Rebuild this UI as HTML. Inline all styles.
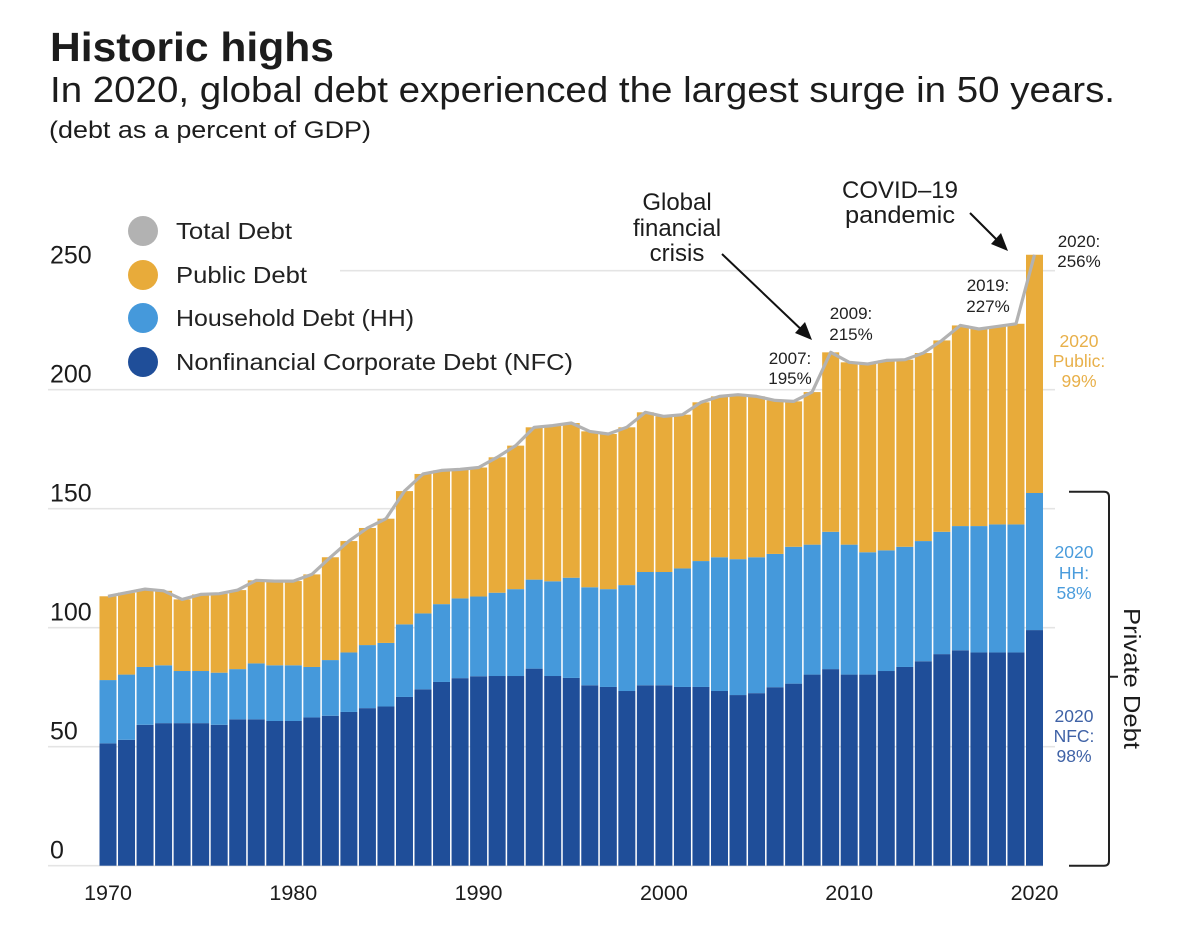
<!DOCTYPE html>
<html lang="en">
<head>
<meta charset="utf-8">
<title>Historic highs</title>
<style>
  html, body { margin: 0; padding: 0; background: #fff; }
  svg { display: block; font-family: "Liberation Sans", "DejaVu Sans", sans-serif; }
  .txt { fill: #1c1c1c; }
  .ann { font-size: 17px; fill: #222; text-anchor: middle; }
  .call { font-size: 24px; fill: #1c1c1c; text-anchor: middle; }
  .leg { font-size: 23px; fill: #222; }
  .pub { font-size: 17.5px; fill: #e8b04a; text-anchor: middle; }
  .hhl { font-size: 17.5px; fill: #4a9cdc; text-anchor: middle; }
  .nfc { font-size: 17.5px; fill: #3f62a6; text-anchor: middle; }
</style>
</head>
<body>
<svg id="chart" width="1200" height="948" viewBox="0 0 1200 948" xmlns="http://www.w3.org/2000/svg">
  <rect width="1200" height="948" fill="#fff"/>

  <text class="txt" x="50" y="61" font-size="41" font-weight="700" textLength="284" lengthAdjust="spacingAndGlyphs">Historic highs</text>
  <text class="txt" x="50" y="102" font-size="36" textLength="1065" lengthAdjust="spacingAndGlyphs">In 2020, global debt experienced the largest surge in 50 years.</text>
  <text class="txt" x="49" y="138" font-size="24" textLength="322" lengthAdjust="spacingAndGlyphs">(debt as a percent of GDP)</text>

  <g id="grid"></g>
  <g id="yAxis"></g>
  <g id="bars"></g>
  <g id="line"></g>
  <g id="xAxis"></g>

  <g>
    <g>
      <circle cx="143" cy="231" r="15" fill="#b2b2b2"/>
      <text class="leg" x="176" y="239" textLength="116" lengthAdjust="spacingAndGlyphs">Total Debt</text>
    </g>
    <g>
      <circle cx="143" cy="275" r="15" fill="#e8ab3a"/>
      <text class="leg" x="176" y="283" textLength="131" lengthAdjust="spacingAndGlyphs">Public Debt</text>
    </g>
    <g>
      <circle cx="143" cy="318" r="15" fill="#4599db"/>
      <text class="leg" x="176" y="326" textLength="238" lengthAdjust="spacingAndGlyphs">Household Debt (HH)</text>
    </g>
    <g>
      <circle cx="143" cy="362" r="15" fill="#1f4e99"/>
      <text class="leg" x="176" y="370" textLength="397" lengthAdjust="spacingAndGlyphs">Nonfinancial Corporate Debt (NFC)</text>
    </g>
  </g>

  <g>
    <text class="call" x="677" y="210">Global</text>
    <text class="call" x="677" y="236">financial</text>
    <text class="call" x="677" y="261">crisis</text>
    <line x1="722" y1="254" x2="806" y2="334" stroke="#111" stroke-width="2"/>
    <polygon points="812,340 795,333 805,322" fill="#111"/>
  </g>
  <g>
    <text class="call" x="900" y="198" textLength="116" lengthAdjust="spacingAndGlyphs">COVID–19</text>
    <text class="call" x="900" y="223" textLength="110" lengthAdjust="spacingAndGlyphs">pandemic</text>
    <line x1="970" y1="213" x2="1002" y2="245" stroke="#111" stroke-width="2"/>
    <polygon points="1008,251 991,244 1001,233" fill="#111"/>
  </g>

  <g>
    <text class="ann" x="790" y="364">2007:</text>
    <text class="ann" x="790" y="384">195%</text>
    <text class="ann" x="851" y="319">2009:</text>
    <text class="ann" x="851" y="340">215%</text>
    <text class="ann" x="988" y="291">2019:</text>
    <text class="ann" x="988" y="312">227%</text>
    <text class="ann" x="1079" y="247">2020:</text>
    <text class="ann" x="1079" y="267">256%</text>

    <text class="pub" x="1079" y="347">2020</text>
    <text class="pub" x="1079" y="367">Public:</text>
    <text class="pub" x="1079" y="387">99%</text>

    <text class="hhl" x="1074" y="558">2020</text>
    <text class="hhl" x="1074" y="579">HH:</text>
    <text class="hhl" x="1074" y="599">58%</text>

    <text class="nfc" x="1074" y="722">2020</text>
    <text class="nfc" x="1074" y="742">NFC:</text>
    <text class="nfc" x="1074" y="762">98%</text>
  </g>

  <g>
    <path d="M1069 491.7 H1104 Q1109 491.7 1109 496.7 V860.7 Q1109 865.7 1104 865.7 H1069 M1109 676.7 H1118" fill="none" stroke="#222" stroke-width="2"/>
    <text class="txt" transform="translate(1124 608) rotate(90)" font-size="23" textLength="141" lengthAdjust="spacingAndGlyphs">Private Debt</text>
  </g>
</svg>

<script>
const years = [1970,1971,1972,1973,1974,1975,1976,1977,1978,1979,1980,1981,1982,1983,1984,1985,1986,1987,1988,1989,1990,1991,1992,1993,1994,1995,1996,1997,1998,1999,2000,2001,2002,2003,2004,2005,2006,2007,2008,2009,2010,2011,2012,2013,2014,2015,2016,2017,2018,2019,2020];
const nfcDebt = [51.4,52.9,59.2,59.9,59.9,59.9,59.2,61.5,61.5,60.8,60.8,62.3,63,64.6,66.2,66.9,70.9,74.1,77.2,78.8,79.6,79.7,79.7,82.8,79.7,78.9,75.8,75.1,73.4,75.8,75.8,75.1,75.1,73.4,71.7,72.5,75,76.5,80.3,82.6,80.3,80.3,81.8,83.5,85.9,88.9,90.5,89.6,89.6,89.6,99];
const householdDebt = [26.6,27.4,24.3,24.3,21.9,21.9,21.9,21.1,23.5,23.4,23.4,21.2,23.4,25,26.5,26.7,30.5,31.9,32.7,33.5,33.5,35,36.5,37.4,39.8,42.1,41.2,41.1,44.5,47.6,47.6,49.8,52.9,56.2,57.1,57.1,56,57.5,54.6,57.7,54.6,51.4,50.7,50.5,50.5,51.4,52.2,53.1,53.8,53.8,57.6];
const publicDebt = [35.2,34.4,32.7,31.3,30.1,32.2,33.2,33.2,34.9,35.4,35.4,38.9,43.2,46.8,49.2,52.2,56,58.6,56.2,54.2,54.2,56.9,60.3,64,65.4,65,65.5,65.2,66.3,67.1,65.4,64.6,66.7,67.6,69.1,67.6,64.5,61.1,64.1,75.4,76.6,79.1,79.8,78.6,79,80.4,84.3,82.8,83.2,84.3,100.1];
const totalDebt = [113.2,114.7,116.2,115.5,111.9,114,114.3,115.8,119.9,119.6,119.6,122.4,129.6,136.4,141.9,145.8,157.4,164.6,166.1,166.5,167.3,171.6,176.5,184.2,184.9,186,182.5,181.4,184.2,190.5,188.8,189.5,194.7,197.2,197.9,197.2,195.5,195.1,199,215.7,211.5,210.8,212.3,212.6,215.4,220.7,227,225.5,226.6,227.7,256.7];
const yTicks = [0,50,100,150,200,250];
const xTicks = [1970,1980,1990,2000,2010,2020];

const NS = 'http://www.w3.org/2000/svg';
const yScale = v => 865.7 - v * 2.38;
const xLeft = yr => 99.5 + (yr - 1970) * 18.53;
const BAR_W = 17;
const xCenter = yr => xLeft(yr) + BAR_W / 2;

function make(tag, attrs, parent) {
  const el = document.createElementNS(NS, tag);
  for (const k in attrs) el.setAttribute(k, attrs[k]);
  parent.appendChild(el);
  return el;
}

const gridG = document.getElementById('grid');
const yG = document.getElementById('yAxis');
yTicks.forEach(t => {
  const x1 = t === 250 ? 340 : 48;
  const x2 = t === 0 ? 1043 : 1055;
  const gl = make('line', {x1: x1, x2: x2, y1: yScale(t), y2: yScale(t), stroke: '#e4e4e4', 'stroke-width': 1.6}, gridG);
  
  
  const lab = make('text', {x: 50, y: yScale(t) - 7, 'font-size': 25, fill: '#1c1c1c'}, yG);
  lab.textContent = t;
  
  
});

const barsG = document.getElementById('bars');
const seriesList = [
  {key: 'nfc', values: nfcDebt, color: '#1f4e99'},
  {key: 'household', values: householdDebt, color: '#4599db'},
  {key: 'public', values: publicDebt, color: '#e8ab3a'}
];
years.forEach((yr, i) => {
  let base = 0;
  seriesList.forEach(s => {
    const top = base + s.values[i];
    const r = make('rect', {x: xLeft(yr), y: yScale(top), width: BAR_W, height: yScale(base) - yScale(top), fill: s.color}, barsG);
    
    
    base = top;
  });
});

const lineG = document.getElementById('line');
const pts = years.map((yr, i) => xCenter(yr).toFixed(1) + ',' + yScale(totalDebt[i]).toFixed(1)).join(' ');
const pl = make('polyline', {points: pts, fill: 'none', stroke: '#b2b2b2', 'stroke-width': 3.2, 'stroke-linejoin': 'round'}, lineG);



const xG = document.getElementById('xAxis');
xTicks.forEach(t => {
  const lab = make('text', {x: xCenter(t), y: 900, 'font-size': 21.5, fill: '#1c1c1c', 'text-anchor': 'middle'}, xG);
  lab.textContent = t;
  
  
});
</script>
</body>
</html>
